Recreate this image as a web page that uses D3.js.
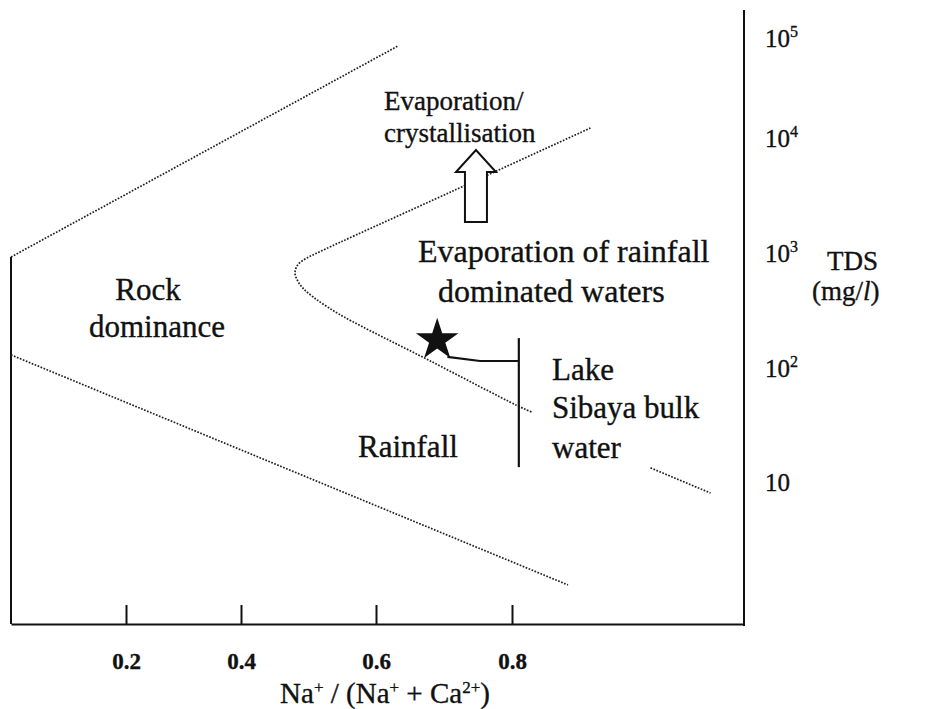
<!DOCTYPE html>
<html>
<head>
<meta charset="utf-8">
<script src="https://cdn.jsdelivr.net/npm/d3@7"></script>
<style>
  body { margin: 0; background: #fff; }
  svg text { font-family: "Liberation Serif", "Times New Roman", serif; fill: #111; stroke: #111; stroke-width: 0.35px; }
</style>
</head>
<body>
<div id="chart"></div>
<script>
// x axis: Na+ / (Na+ + Ca2+)
var xTicks = [0.2, 0.4, 0.6, 0.8];
// y axis: TDS (mg/l), log scale, labels written as 10^n
var yTicks = [10, 100, 1000, 10000, 100000];
var yTickExp = ["", "2", "3", "4", "5"];

// Gibbs boundaries, [ratio, TDS]
var rockUpper = [[0, 923], [0.632, 83000]];
var rockLower = [[0, 130], [0.882, 1.25]];
var evapCurve = [[0.915, 12600], [0.713, 3460], [0.511, 990], [0.495, 887], [0.484, 787],
                 [0.48, 670], [0.484, 571], [0.493, 486], [0.507, 414], [0.526, 346],
                 [0.553, 277], [0.68, 115], [0.807, 47], [0.829, 41]];
var evapTail = [[1.003, 13.3], [1.091, 8.0]];

// Lake Sibaya bulk water
var lakeRatio = 0.81;
var lakeRange = [13.5, 182];
var starPoint = [0.69, 175];
var connector = [[0.705, 125], [0.753, 115], [0.81, 115]];
var arrowPts = [[0.747, 1860], [0.747, 7870]];

var width = 942, height = 709;
var plotTop = 10, plotBottom = 624;

var svg = d3.select("#chart").append("svg")
    .attr("width", width)
    .attr("height", height);

var x = d3.scaleLinear()
  .domain([0, 0.2, 0.4, 0.6, 0.8, 1.14])
  .range([11, 126, 241, 376, 512, 744]);

var y = d3.scaleLog()
  .domain([10, 100, 1000, 10000, 100000])
  .range([482, 368, 253, 138, 38]);

var xRight = x(1.14);

// frame: left axis (starts where the rock-dominance line meets it), right axis
svg.append("line")
  .attr("x1", x(0)).attr("x2", x(0))
  .attr("y1", y(rockUpper[0][1])).attr("y2", plotBottom)
  .attr("stroke", "#111").attr("stroke-width", 2);
svg.append("line")
  .attr("x1", xRight).attr("x2", xRight)
  .attr("y1", plotTop).attr("y2", plotBottom + 2)
  .attr("stroke", "#111").attr("stroke-width", 2);

// bottom axis with ticks pointing up
var xAxis = d3.axisBottom(x)
  .tickValues(xTicks)
  .tickSizeInner(-19)
  .tickSizeOuter(0)
  .tickPadding(29)
  .tickFormat(d3.format(".1f"));

var gx = svg.append("g")
  .attr("transform", "translate(0," + plotBottom + ")")
  .call(xAxis);
gx.select(".domain").attr("stroke", "#111").attr("stroke-width", 2);
gx.selectAll(".tick line").attr("stroke", "#111").attr("stroke-width", 2);
gx.selectAll(".tick text")
  .attr("fill", "#111")
  .style("font-family", "'Liberation Serif', serif")
  .style("font-weight", "bold")
  .style("font-size", "23px");

// y labels on the right
var yl = svg.selectAll(".ylab")
  .data(yTicks)
  .enter()
  .append("text")
  .attr("class", "ylab")
  .attr("x", xRight + 21)
  .attr("y", d => y(d) + 9)
  .style("font-size", "25px");
yl.append("tspan").text("10");
yl.append("tspan")
  .attr("dy", -10)
  .style("font-size", "16px")
  .text((d, i) => yTickExp[i]);

// axis titles
var tds = svg.append("text").attr("x", 827).attr("y", 270).style("font-size", "27px");
tds.text("TDS");
var unit = svg.append("text").attr("x", 812).attr("y", 300).style("font-size", "27px");
unit.append("tspan").text("(mg/");
unit.append("tspan").style("font-style", "italic").text("l");
unit.append("tspan").text(")");

var xt = svg.append("text")
  .attr("x", 385).attr("y", 703)
  .attr("text-anchor", "middle")
  .style("font-size", "29px");
xt.append("tspan").text("Na");
xt.append("tspan").attr("dy", -10).style("font-size", "17px").text("+");
xt.append("tspan").attr("dy", 10).text(" / (Na");
xt.append("tspan").attr("dy", -10).style("font-size", "17px").text("+");
xt.append("tspan").attr("dy", 10).text(" + Ca");
xt.append("tspan").attr("dy", -10).style("font-size", "17px").text("2+");
xt.append("tspan").attr("dy", 10).text(")");

// dotted Gibbs boundaries
var line = d3.line()
  .x(d => x(d[0]))
  .y(d => y(d[1]))
  .curve(d3.curveCatmullRom.alpha(0.5));

[rockUpper, rockLower, evapCurve, evapTail].forEach(function(pts) {
  svg.append("path")
    .datum(pts)
    .attr("d", line)
    .attr("fill", "none")
    .attr("stroke", "#222")
    .attr("stroke-width", 1.7)
    .attr("stroke-dasharray", "1.7,1.5");
});

// Lake Sibaya range bar
svg.append("line")
  .attr("x1", x(lakeRatio)).attr("x2", x(lakeRatio))
  .attr("y1", y(lakeRange[1])).attr("y2", y(lakeRange[0]))
  .attr("stroke", "#111").attr("stroke-width", 2.2);

svg.append("path")
  .datum(connector)
  .attr("d", d3.line().x(d => x(d[0])).y(d => y(d[1])))
  .attr("fill", "none")
  .attr("stroke", "#111")
  .attr("stroke-width", 2.2);

svg.append("path")
  .attr("d", d3.symbol(d3.symbolStar).size(560))
  .attr("transform", "translate(" + x(starPoint[0]) + "," + y(starPoint[1]) + ")")
  .attr("fill", "#111");

// hollow arrow
var ax = x(arrowPts[0][0]), ay0 = y(arrowPts[0][1]), ay1 = y(arrowPts[1][1]);
var shaftW = 11, headW = 20, headH = 22;
var arrowPath = d3.path();
arrowPath.moveTo(ax - shaftW, ay0);
arrowPath.lineTo(ax - shaftW, ay1 + headH);
arrowPath.lineTo(ax - headW, ay1 + headH);
arrowPath.lineTo(ax, ay1);
arrowPath.lineTo(ax + headW, ay1 + headH);
arrowPath.lineTo(ax + shaftW, ay1 + headH);
arrowPath.lineTo(ax + shaftW, ay0);
arrowPath.closePath();
svg.append("path")
  .attr("d", arrowPath.toString())
  .attr("fill", "#fff")
  .attr("stroke", "#111")
  .attr("stroke-width", 2);

// region labels
function label(txt, px, py, size, anchor) {
  svg.append("text")
    .attr("x", px).attr("y", py)
    .attr("text-anchor", anchor || "start")
    .style("font-size", size + "px")
    .text(txt);
}
label("Evaporation/", 384, 110, 27);
label("crystallisation", 384, 142, 27);
label("Evaporation of rainfall", 418, 262, 32);
label("dominated waters", 438, 302, 32);
label("Rock", 148, 300, 31, "middle");
label("dominance", 157, 337, 31, "middle");
label("Rainfall", 358, 457, 31);
label("Lake", 552, 380, 31);
label("Sibaya bulk", 552, 418, 31);
label("water", 552, 458, 31);
</script>
</body>
</html>
